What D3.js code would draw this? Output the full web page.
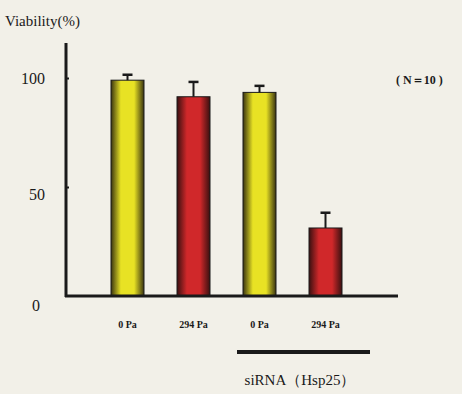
<!DOCTYPE html>
<html><head><meta charset="utf-8">
<script src="https://cdn.jsdelivr.net/npm/d3@7"></script>
<style>body{margin:0;background:#f2f0e8;}svg{display:block;}</style>
</head><body>
<script>
const categories = ["0 Pa", "294 Pa", "0 Pa ", "294 Pa "];
const labels = ["0 Pa", "294 Pa", "0 Pa", "294 Pa"];
const values = [99, 91.4, 93.4, 31.2];
const errors = [2.5, 6.8, 3, 7];
const kinds = ["yellow", "red", "yellow", "red"];
const yTicks = [0, 50, 100];
const yLabel = "Viability(%)";
const nLabel = "( N＝10 )";
const groupLabel = "siRNA（Hsp25）";

const W = 462, H = 394;
const svg = d3.select("body").append("svg").attr("width", W).attr("height", H);
svg.append("rect").attr("width", W).attr("height", H).attr("fill", "#f2f0e8");

const defs = svg.append("defs");
function grad(id, dark, mid) {
  const g = defs.append("linearGradient").attr("id", id).attr("x1", "0%").attr("x2", "100%");
  g.append("stop").attr("offset", "0%").attr("stop-color", dark);
  g.append("stop").attr("offset", "30%").attr("stop-color", mid);
  g.append("stop").attr("offset", "70%").attr("stop-color", mid);
  g.append("stop").attr("offset", "100%").attr("stop-color", dark);
}
grad("gyellow", "#3a3410", "#e8e224");
grad("gred", "#3a1010", "#d0282a");

const x = d3.scaleBand().domain(categories).range([111, 342]).paddingInner(0.5).paddingOuter(0);
const y = d3.scaleLinear().domain([0, 100]).range([296, 78]);

const serif = "'Liberation Serif','DejaVu Serif',serif";

// bars
svg.selectAll("rect.bar").data(categories).enter().append("rect")
  .attr("x", d => x(d)).attr("width", x.bandwidth())
  .attr("y", (d, i) => y(values[i])).attr("height", (d, i) => y(0) - y(values[i]))
  .attr("fill", (d, i) => `url(#g${kinds[i]})`)
  .attr("stroke", "#1a1a1a").attr("stroke-width", 1);

// error bars
const eb = svg.selectAll("g.err").data(categories).enter().append("g");
eb.append("line")
  .attr("x1", d => x(d) + x.bandwidth() / 2).attr("x2", d => x(d) + x.bandwidth() / 2)
  .attr("y1", (d, i) => y(values[i])).attr("y2", (d, i) => y(values[i] + errors[i]))
  .attr("stroke", "#1a1a1a").attr("stroke-width", 2);
eb.append("line")
  .attr("x1", d => x(d) + x.bandwidth() / 2 - 5).attr("x2", d => x(d) + x.bandwidth() / 2 + 5)
  .attr("y1", (d, i) => y(values[i] + errors[i])).attr("y2", (d, i) => y(values[i] + errors[i]))
  .attr("stroke", "#1a1a1a").attr("stroke-width", 2.5);

// y axis
const yAxis = d3.axisRight(y).tickValues([50, 100]).tickSize(3).tickFormat("");
const ya = svg.append("g").attr("transform", "translate(66,0)").call(yAxis);
ya.select(".domain").remove();
ya.selectAll("line").attr("stroke", "#1a1a1a").attr("stroke-width", 2);
svg.append("line").attr("x1", 66).attr("x2", 66).attr("y1", 43).attr("y2", 297)
  .attr("stroke", "#1a1a1a").attr("stroke-width", 3);
// x axis
svg.append("line").attr("x1", 65).attr("x2", 398).attr("y1", y(0)).attr("y2", y(0))
  .attr("stroke", "#1a1a1a").attr("stroke-width", 3);

// y tick labels
svg.selectAll("text.yt").data(yTicks).enter().append("text")
  .attr("x", d => d === 0 ? 40 : 45).attr("y", d => d === 0 ? 311 : (d === 50 ? y(d) + 13 : y(d) + 6))
  .attr("text-anchor", "end").attr("font-family", serif).attr("font-size", 16)
  .attr("fill", "#1a1a1a").text(d => d);

// y label
svg.append("text").attr("x", 5).attr("y", 26).attr("font-family", serif).attr("font-size", 15)
  .attr("fill", "#1a1a1a").text(yLabel);

// N label
svg.append("text").attr("x", 396).attr("y", 84).attr("font-family", serif).attr("font-size", 12)
  .attr("font-weight", "bold").attr("fill", "#1a1a1a").text(nLabel);

// x labels
svg.selectAll("text.xl").data(categories).enter().append("text")
  .attr("x", d => x(d) + x.bandwidth() / 2).attr("y", 328)
  .attr("text-anchor", "middle").attr("font-family", serif).attr("font-size", 10)
  .attr("font-weight", "bold").attr("fill", "#1a1a1a").text((d, i) => labels[i]);

// group bar
svg.append("line")
  .attr("x1", x(categories[2]) - 6).attr("x2", x(categories[3]) + x.bandwidth() + 28)
  .attr("y1", 352).attr("y2", 352).attr("stroke", "#1a1a1a").attr("stroke-width", 4);
svg.append("text").attr("x", 300).attr("y", 385).attr("text-anchor", "middle")
  .attr("font-family", serif).attr("font-size", 15).attr("fill", "#1a1a1a").text(groupLabel);
</script>
</body></html>
